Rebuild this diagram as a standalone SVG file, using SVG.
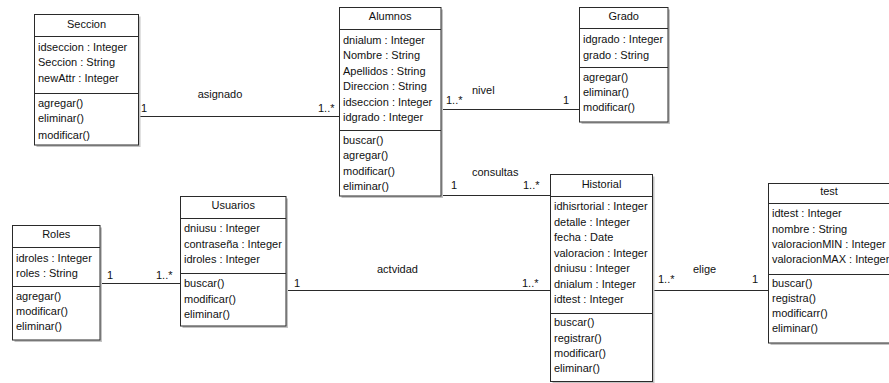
<svg xmlns="http://www.w3.org/2000/svg" width="889" height="383" viewBox="0 0 889 383">
<style>
text{font-family:"Liberation Sans",Arial,sans-serif;font-size:11px;fill:#111}
.t{text-anchor:middle}
.sh{fill:#c4c4c4;stroke:none}
.bx{fill:#fff;stroke:#2a2a2a;stroke-width:1}
.sep{stroke:#2a2a2a;stroke-width:1}
.cn line{stroke:#2a2a2a;stroke-width:1}
</style>
<rect width="889" height="383" fill="#fff"/>
<g id="connectors" class="cn">
<line x1="138.5" y1="116.5" x2="339.5" y2="116.5"/>
<line x1="441" y1="109.5" x2="579.5" y2="109.5"/>
<line x1="441" y1="195.5" x2="550.5" y2="195.5"/>
<line x1="100" y1="283.5" x2="180.5" y2="283.5"/>
<line x1="286" y1="290.5" x2="550.5" y2="290.5"/>
<line x1="652.5" y1="290.5" x2="768.5" y2="290.5"/>
<text x="220" y="98" class="t">asignado</text>
<text x="141" y="112">1</text>
<text x="318" y="112">1..*</text>
<text x="472" y="94">nivel</text>
<text x="446" y="104">1..*</text>
<text x="563" y="104">1</text>
<text x="472" y="175.5">consultas</text>
<text x="451" y="189">1</text>
<text x="523" y="189">1..*</text>
<text x="107" y="279">1</text>
<text x="156" y="279">1..*</text>
<text x="294" y="286.5">1</text>
<text x="377" y="273">actvidad</text>
<text x="522" y="286.5">1..*</text>
<text x="658" y="283">1..*</text>
<text x="693" y="273">elige</text>
<text x="752" y="283">1</text>
</g>
<g id="Seccion">
<rect class="sh" x="36.5" y="16.5" width="104" height="130.5"/>
<rect class="bx" x="34.5" y="14.5" width="104" height="130.5"/>
<line class="sep" x1="34.5" y1="36.5" x2="138.5" y2="36.5"/>
<line class="sep" x1="34.5" y1="93.5" x2="138.5" y2="93.5"/>
<text x="86.5" y="27.5" class="t">Seccion</text>
<text x="38" y="50.8">idseccion : Integer</text>
<text x="38" y="66.3">Seccion : String</text>
<text x="38" y="81.8">newAttr : Integer</text>
<text x="38" y="106.5">agregar()</text>
<text x="38" y="122.3">eliminar()</text>
<text x="38" y="138.5">modificar()</text>
</g>
<g id="Alumnos">
<rect class="sh" x="341.5" y="9.5" width="101.5" height="188.5"/>
<rect class="bx" x="339.5" y="7.5" width="101.5" height="188.5"/>
<line class="sep" x1="339.5" y1="29.5" x2="441" y2="29.5"/>
<line class="sep" x1="339.5" y1="130.5" x2="441" y2="130.5"/>
<text x="390.2" y="20" class="t">Alumnos</text>
<text x="343" y="43.8">dnialum : Integer</text>
<text x="343" y="59.3">Nombre : String</text>
<text x="343" y="74.8">Apellidos : String</text>
<text x="343" y="90.3">Direccion : String</text>
<text x="343" y="105.8">idseccion : Integer</text>
<text x="343" y="121.3">idgrado : Integer</text>
<text x="343" y="143.8">buscar()</text>
<text x="343" y="159.2">agregar()</text>
<text x="343" y="174.6">modificar()</text>
<text x="343" y="190">eliminar()</text>
</g>
<g id="Grado">
<rect class="sh" x="581.5" y="9.5" width="88.5" height="114.5"/>
<rect class="bx" x="579.5" y="7.5" width="88.5" height="114.5"/>
<line class="sep" x1="579.5" y1="28.5" x2="668" y2="28.5"/>
<line class="sep" x1="579.5" y1="67.5" x2="668" y2="67.5"/>
<text x="623.7" y="20" class="t">Grado</text>
<text x="583" y="43">idgrado : Integer</text>
<text x="583" y="58.5">grado : String</text>
<text x="583" y="81">agregar()</text>
<text x="583" y="96">eliminar()</text>
<text x="583" y="111">modificar()</text>
</g>
<g id="Roles">
<rect class="sh" x="14.5" y="227.5" width="87.5" height="114.5"/>
<rect class="bx" x="12.5" y="225.5" width="87.5" height="114.5"/>
<line class="sep" x1="12.5" y1="247.5" x2="100" y2="247.5"/>
<line class="sep" x1="12.5" y1="286.5" x2="100" y2="286.5"/>
<text x="56.2" y="238" class="t">Roles</text>
<text x="16" y="261.5">idroles : Integer</text>
<text x="16" y="277">roles : String</text>
<text x="16" y="300">agregar()</text>
<text x="16" y="315">modificar()</text>
<text x="16" y="330">eliminar()</text>
</g>
<g id="Usuarios">
<rect class="sh" x="182.5" y="198.5" width="105.5" height="129.5"/>
<rect class="bx" x="180.5" y="196.5" width="105.5" height="129.5"/>
<line class="sep" x1="180.5" y1="218.5" x2="286" y2="218.5"/>
<line class="sep" x1="180.5" y1="273.5" x2="286" y2="273.5"/>
<text x="233.2" y="209" class="t">Usuarios</text>
<text x="184" y="232">dniusu : Integer</text>
<text x="184" y="247.6">contraseña : Integer</text>
<text x="184" y="263.2">idroles : Integer</text>
<text x="184" y="287.3">buscar()</text>
<text x="184" y="302.7">modificar()</text>
<text x="184" y="318">eliminar()</text>
</g>
<g id="Historial">
<rect class="sh" x="552.5" y="176.5" width="102" height="207"/>
<rect class="bx" x="550.5" y="174.5" width="102" height="207"/>
<line class="sep" x1="550.5" y1="196.5" x2="652.5" y2="196.5"/>
<line class="sep" x1="550.5" y1="313.5" x2="652.5" y2="313.5"/>
<text x="601.5" y="187.5" class="t">Historial</text>
<text x="554" y="210">idhisrtorial : Integer</text>
<text x="554" y="225.5">detalle : Integer</text>
<text x="554" y="241">fecha : Date</text>
<text x="554" y="256.5">valoracion : Integer</text>
<text x="554" y="272">dniusu : Integer</text>
<text x="554" y="287.5">dnialum : Integer</text>
<text x="554" y="303">idtest : Integer</text>
<text x="554" y="326.3">buscar()</text>
<text x="554" y="341.7">registrar()</text>
<text x="554" y="357">modificar()</text>
<text x="554" y="372.4">eliminar()</text>
</g>
<g id="test">
<rect class="sh" x="770.5" y="185.5" width="123" height="159.5"/>
<rect class="bx" x="768.5" y="183.5" width="123" height="159.5"/>
<line class="sep" x1="768.5" y1="203.5" x2="891.5" y2="203.5"/>
<line class="sep" x1="768.5" y1="274.5" x2="891.5" y2="274.5"/>
<text x="829" y="194.7" class="t">test</text>
<text x="772" y="217.3">idtest : Integer</text>
<text x="772" y="232.6">nombre : String</text>
<text x="772" y="247.9">valoracionMIN : Integer</text>
<text x="772" y="263.2">valoracionMAX : Integer</text>
<text x="772" y="286.7">buscar()</text>
<text x="772" y="301.9">registra()</text>
<text x="772" y="317.1">modificarr()</text>
<text x="772" y="332.3">eliminar()</text>
</g>
</svg>
